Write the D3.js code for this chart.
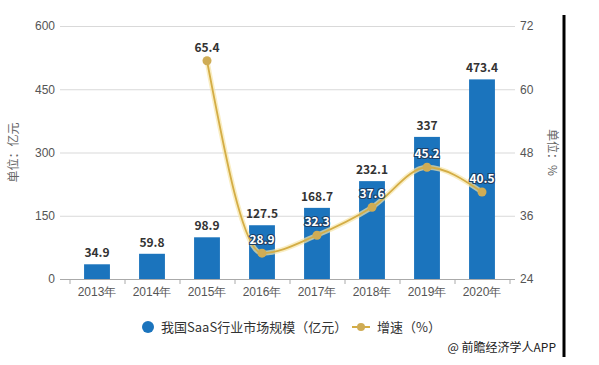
<!DOCTYPE html>
<html>
<head>
<meta charset="utf-8">
<script src="https://cdn.jsdelivr.net/npm/d3@7"></script>
<style>
  body { margin: 0; background: #fff; }
  svg { font-family: "Microsoft YaHei", "Noto Sans CJK SC", sans-serif; }
  .axis text { fill: #555; font-size: 12px; }
  .bar-label { font-size: 12px; font-weight: bold; fill: #333; text-anchor: middle; }
  .line-label { font-size: 12px; font-weight: bold; fill: #fff; stroke: #1d3f66; stroke-width: 2.2px; paint-order: stroke; text-anchor: middle; }
</style>
</head>
<body>
<div id="chart"></div>
<script>

// data
const years = ['2013年', '2014年', '2015年', '2016年', '2017年', '2018年', '2019年', '2020年'];
const scale = [34.9, 59.8, 98.9, 127.5, 168.7, 232.1, 337, 473.4];
const growth = [null, null, 65.4, 28.9, 32.3, 37.6, 45.2, 40.5];
const leftTicks = [0, 150, 300, 450, 600];
const rightTicks = [24, 36, 48, 60, 72];

const W = 599, H = 365;
const margin = {top: 26, right: 84, bottom: 86, left: 60};
const width = W - margin.left - margin.right,
    height = H - margin.top - margin.bottom;

const svg = d3.select('#chart')
    .append('svg')
    .attr('width', W)
    .attr('height', H);

const g = svg.append('g')
    .attr('transform', 'translate(' + margin.left + ',' + margin.top + ')');

const xScale = d3.scaleBand()
    .domain(years)
    .range([9.5, width - 5.5])
    .paddingInner(0.53)
    .paddingOuter(0.265);

const yLeft = d3.scaleLinear()
    .domain([0, 600])
    .range([height, 0]);

const yRight = d3.scaleLinear()
    .domain([24, 72])
    .range([height, 0]);

// gridlines
g.append('g')
    .selectAll('line')
    .data(leftTicks)
    .join('line')
    .attr('x1', 0)
    .attr('x2', width)
    .attr('y1', d => yLeft(d) + 0.5)
    .attr('y2', d => yLeft(d) + 0.5)
    .attr('stroke', d => d === 0 ? '#aaa' : '#d9d9d9');

// left axis
g.append('g')
    .attr('class', 'axis')
    .call(d3.axisLeft(yLeft).tickValues(leftTicks).tickSize(0).tickPadding(5))
    .call(a => a.select('.domain').remove());

// right axis
g.append('g')
    .attr('class', 'axis')
    .attr('transform', `translate(${width},0)`)
    .call(d3.axisRight(yRight).tickValues(rightTicks).tickSize(0).tickPadding(5))
    .call(a => a.select('.domain').remove());

// x axis
const xAxis = g.append('g')
    .attr('class', 'axis')
    .attr('transform', `translate(0, ${height})`)
    .call(d3.axisBottom(xScale).tickSize(0).tickPadding(8));
xAxis.select('.domain').remove();
xAxis.selectAll('.tick').append('line')
    .attr('x1', xScale.step() / 2 + 0.5)
    .attr('x2', xScale.step() / 2 + 0.5)
    .attr('y1', 0).attr('y2', 5)
    .attr('stroke', '#aaa');
xAxis.append('line')
    .attr('x1', xScale(years[0]) + xScale.bandwidth() / 2 - xScale.step() / 2 + 0.5)
    .attr('x2', xScale(years[0]) + xScale.bandwidth() / 2 - xScale.step() / 2 + 0.5)
    .attr('y1', 0).attr('y2', 5)
    .attr('stroke', '#aaa');

// axis titles
g.append('text')
    .attr('transform', `translate(-42, ${height / 2}) rotate(-90)`)
    .attr('text-anchor', 'middle')
    .attr('font-size', 12)
    .attr('fill', '#666')
    .text('单位：亿元');

g.append('text')
    .attr('transform', `translate(${width + 33}, ${height / 2}) rotate(90)`)
    .attr('text-anchor', 'middle')
    .attr('font-size', 12)
    .attr('fill', '#666')
    .text('单位：%');

// bars
g.selectAll('.bar')
    .data(years)
    .join('rect')
    .attr('class', 'bar')
    .attr('x', d => xScale(d))
    .attr('width', xScale.bandwidth())
    .attr('y', (d, i) => yLeft(scale[i]))
    .attr('height', (d, i) => height - yLeft(scale[i]))
    .attr('fill', '#1b74bd');

g.selectAll('.bar-label')
    .data(years)
    .join('text')
    .attr('class', 'bar-label')
    .attr('x', d => xScale(d) + xScale.bandwidth() / 2)
    .attr('y', (d, i) => yLeft(scale[i]) - 7)
    .text((d, i) => scale[i]);

// growth line
const pts = years.map((d, i) => ({year: d, v: growth[i]})).filter(d => d.v !== null);
const cx = d => xScale(d.year) + xScale.bandwidth() / 2;

const line = d3.line()
    .x(cx)
    .y(d => yRight(d.v))
    .curve(d3.curveMonotoneX);

g.append('path')
    .datum(pts)
    .attr('fill', 'none')
    .attr('stroke', '#f6e6a8')
    .attr('stroke-width', 5)
    .attr('opacity', 0.7)
    .attr('d', line);

g.append('path')
    .datum(pts)
    .attr('fill', 'none')
    .attr('stroke', '#d4ad45')
    .attr('stroke-width', 1.8)
    .attr('d', line);

g.selectAll('.dot')
    .data(pts)
    .join('circle')
    .attr('class', 'dot')
    .attr('cx', cx)
    .attr('cy', d => yRight(d.v))
    .attr('r', 4.5)
    .attr('fill', '#cfac55');

g.selectAll('.line-label')
    .data(pts)
    .join('text')
    .attr('class', 'line-label')
    .attr('x', cx)
    .attr('y', d => yRight(d.v) - 9)
    .style('fill', d => d.v > 60 ? '#333' : null)
    .style('stroke', d => d.v > 60 ? 'none' : null)
    .text(d => d.v);

// legend
const legend = svg.append('g').attr('transform', 'translate(0, 327)');
legend.append('circle')
    .attr('cx', 148).attr('cy', 0).attr('r', 6)
    .attr('fill', '#1b74bd');
legend.append('text')
    .attr('x', 161).attr('y', 4.5)
    .attr('font-size', 13)
    .attr('fill', '#333')
    .text('我国SaaS行业市场规模（亿元）');
legend.append('line')
    .attr('x1', 352).attr('x2', 370).attr('y1', 0).attr('y2', 0)
    .attr('stroke', '#d4ad45').attr('stroke-width', 2);
legend.append('circle')
    .attr('cx', 361).attr('cy', 0).attr('r', 4)
    .attr('fill', '#cfac55');
legend.append('text')
    .attr('x', 377).attr('y', 4.5)
    .attr('font-size', 13)
    .attr('fill', '#333')
    .text('增速（%）');

// source
svg.append('text')
    .attr('x', 556).attr('y', 352)
    .attr('text-anchor', 'end')
    .attr('font-size', 12)
    .attr('fill', '#222')
    .text('@ 前瞻经济学人APP');

// right border
svg.append('line')
    .attr('x1', 564).attr('x2', 564)
    .attr('y1', 15).attr('y2', 357)
    .attr('stroke', '#000')
    .attr('stroke-width', 3);

</script>
</body>
</html>
